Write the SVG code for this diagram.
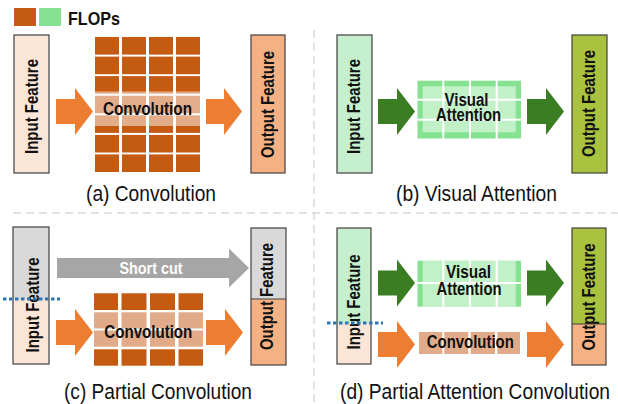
<svg xmlns="http://www.w3.org/2000/svg" width="618" height="404" viewBox="0 0 618 404">
<style>
.bg{fill:#ffffff}
.feat{stroke:#404040;stroke-width:1.2}
.inp{fill:#fbe5d6}
.outc{fill:#f4b183}
.ging{fill:#c6efce}
.gout{fill:#a9c23f}
.gray{fill:#d9d9d9}
.cell{fill:#c55a11}
.lcell{fill:#e1ab89}
.gcell{fill:#84e291}
.ov{fill:#ffffff;fill-opacity:0.5}
.oarr{fill:#ed7d31}
.garr{fill:#3b7d23}
.sarr{fill:#a6a6a6}
.dash{stroke:#d9d9d9;stroke-width:1.5;stroke-dasharray:8 5;fill:none}
.dot{stroke:#2e75b6;stroke-width:2.8;stroke-dasharray:3.5 2.5;fill:none}
.lbl{font-family:"Liberation Sans",Arial,sans-serif;font-weight:bold;font-size:17.5px;fill:#111;text-anchor:middle}
.rl{font-family:"Liberation Sans",Arial,sans-serif;font-weight:bold;font-size:18px;fill:#111;text-anchor:middle}
.cap{font-family:"Liberation Sans",Arial,sans-serif;font-size:22px;fill:#111;text-anchor:middle}
</style>
<rect class="bg" x="0" y="0" width="618" height="404"/>

<g id="legend">
<rect class="cell" x="14" y="8" width="22" height="18"/>
<rect class="gcell" x="39" y="8" width="22" height="18"/>
<text x="68" y="24.5" style="font-family:'Liberation Sans',Arial,sans-serif;font-weight:bold;font-size:18.5px;fill:#111" textLength="52" lengthAdjust="spacingAndGlyphs">FLOPs</text>
</g>

<g id="dividers">
<line class="dash" x1="314" y1="30" x2="314" y2="404"/>
<line class="dash" x1="13" y1="213" x2="618" y2="213"/>
</g>

<g id="connectors">
<polygon class="oarr" points="56,99 75,99 75,88 93,111.5 75,135 75,124 56,124"/>
<polygon class="oarr" points="206,99 224,99 224,88 242,111.5 224,135 224,124 206,124"/>
<polygon class="garr" points="378,99 397,99 397,88 415,111.5 397,135 397,124 378,124"/>
<polygon class="garr" points="527,99 546,99 546,88 564,111.5 546,135 546,124 527,124"/>
<polygon class="sarr" points="57,258 229,258 229,248.5 249,268 229,287.5 229,278 57,278"/>
<polygon class="oarr" points="56,320 75,320 75,309 93,332.5 75,356 75,345 56,345"/>
<polygon class="oarr" points="206,320 225,320 225,309 243,332.5 225,356 225,345 206,345"/>
<polygon class="garr" points="378,270.5 397,270.5 397,259.5 415,283 397,306.5 397,295.5 378,295.5"/>
<polygon class="garr" points="527,270.5 546,270.5 546,259.5 564,283 546,306.5 546,295.5 527,295.5"/>
<polygon class="oarr" points="378,332 397,332 397,321 415,344.5 397,368 397,357 378,357"/>
<polygon class="oarr" points="527,332 546,332 546,321 564,344.5 546,368 546,357 527,357"/>
</g>

<g id="a-input">
<rect class="feat inp" x="14" y="35" width="35" height="138"/>
<text class="rl" transform="translate(37.5,106.5) rotate(-90)" textLength="95" lengthAdjust="spacingAndGlyphs">Input Feature</text>
</g>
<g id="a-conv">
<rect class="cell" x="95" y="37" width="24" height="17.6"/><rect class="cell" x="122" y="37" width="24" height="17.6"/><rect class="cell" x="149" y="37" width="24" height="17.6"/><rect class="cell" x="176" y="37" width="24" height="17.6"/>
<rect class="cell" x="95" y="56.6" width="24" height="17.6"/><rect class="cell" x="122" y="56.6" width="24" height="17.6"/><rect class="cell" x="149" y="56.6" width="24" height="17.6"/><rect class="cell" x="176" y="56.6" width="24" height="17.6"/>
<rect class="cell" x="95" y="76.1" width="24" height="17.6"/><rect class="cell" x="122" y="76.1" width="24" height="17.6"/><rect class="cell" x="149" y="76.1" width="24" height="17.6"/><rect class="cell" x="176" y="76.1" width="24" height="17.6"/>
<rect class="cell" x="95" y="95.7" width="24" height="17.6"/><rect class="cell" x="122" y="95.7" width="24" height="17.6"/><rect class="cell" x="149" y="95.7" width="24" height="17.6"/><rect class="cell" x="176" y="95.7" width="24" height="17.6"/>
<rect class="cell" x="95" y="115.3" width="24" height="17.6"/><rect class="cell" x="122" y="115.3" width="24" height="17.6"/><rect class="cell" x="149" y="115.3" width="24" height="17.6"/><rect class="cell" x="176" y="115.3" width="24" height="17.6"/>
<rect class="cell" x="95" y="134.9" width="24" height="17.6"/><rect class="cell" x="122" y="134.9" width="24" height="17.6"/><rect class="cell" x="149" y="134.9" width="24" height="17.6"/><rect class="cell" x="176" y="134.9" width="24" height="17.6"/>
<rect class="cell" x="95" y="154.4" width="24" height="17.6"/><rect class="cell" x="122" y="154.4" width="24" height="17.6"/><rect class="cell" x="149" y="154.4" width="24" height="17.6"/><rect class="cell" x="176" y="154.4" width="24" height="17.6"/>
<rect class="ov" x="95" y="91.5" width="105" height="34.5"/>
<text class="lbl" x="147.5" y="115" textLength="89" lengthAdjust="spacingAndGlyphs">Convolution</text>
</g>
<g id="a-output">
<rect class="feat outc" x="251" y="35" width="34" height="138"/>
<text class="rl" transform="translate(274,104.5) rotate(-90)" textLength="107" lengthAdjust="spacingAndGlyphs">Output Feature</text>
</g>
<text class="cap" x="151" y="201" textLength="130" lengthAdjust="spacingAndGlyphs">(a) Convolution</text>

<g id="b-input">
<rect class="feat ging" x="337" y="35" width="35" height="138"/>
<text class="rl" transform="translate(360,106.5) rotate(-90)" textLength="95" lengthAdjust="spacingAndGlyphs">Input Feature</text>
</g>
<g id="b-attn">
<rect class="gcell" x="417.5" y="80.7" width="24.8" height="18"/><rect class="gcell" x="444.3" y="80.7" width="24.7" height="18"/><rect class="gcell" x="471" y="80.7" width="24.7" height="18"/><rect class="gcell" x="497.7" y="80.7" width="23.3" height="18"/>
<rect class="gcell" x="417.5" y="100.7" width="24.8" height="18"/><rect class="gcell" x="444.3" y="100.7" width="24.7" height="18"/><rect class="gcell" x="471" y="100.7" width="24.7" height="18"/><rect class="gcell" x="497.7" y="100.7" width="23.3" height="18"/>
<rect class="gcell" x="417.5" y="120.7" width="24.8" height="17.8"/><rect class="gcell" x="444.3" y="120.7" width="24.7" height="17.8"/><rect class="gcell" x="471" y="120.7" width="24.7" height="17.8"/><rect class="gcell" x="497.7" y="120.7" width="23.3" height="17.8"/>
<rect class="ov" x="422.7" y="86.3" width="93" height="46"/>
<text class="lbl" x="466.5" y="105.5" textLength="44" lengthAdjust="spacingAndGlyphs">Visual</text>
<text class="lbl" x="468.5" y="121" textLength="65" lengthAdjust="spacingAndGlyphs">Attention</text>
</g>
<g id="b-output">
<rect class="feat gout" x="572" y="35" width="35" height="138"/>
<text class="rl" transform="translate(594.5,103.5) rotate(-90)" textLength="107" lengthAdjust="spacingAndGlyphs">Output Feature</text>
</g>
<text class="cap" x="476.5" y="201" textLength="161" lengthAdjust="spacingAndGlyphs">(b) Visual Attention</text>

<g id="c-input">
<rect class="gray" x="13" y="227" width="36" height="72"/>
<rect class="inp" x="13" y="299" width="36" height="65"/>
<rect class="feat" fill="none" x="13" y="227" width="36" height="137"/>
<text class="rl" transform="translate(39,305) rotate(-90)" textLength="95" lengthAdjust="spacingAndGlyphs">Input Feature</text>
<line class="dot" x1="3" y1="299" x2="60" y2="299"/>
</g>
<g id="c-conv">
<rect class="cell" x="94" y="293.3" width="24" height="16.7"/><rect class="cell" x="121.5" y="293.3" width="25" height="16.7"/><rect class="cell" x="150" y="293.3" width="25" height="16.7"/><rect class="cell" x="178.5" y="293.3" width="24.5" height="16.7"/>
<rect class="lcell" x="94" y="312.3" width="24" height="16.2"/><rect class="lcell" x="121.5" y="312.3" width="25" height="16.2"/><rect class="lcell" x="150" y="312.3" width="25" height="16.2"/><rect class="lcell" x="178.5" y="312.3" width="24.5" height="16.2"/>
<rect class="lcell" x="94" y="330.5" width="24" height="16.2"/><rect class="lcell" x="121.5" y="330.5" width="25" height="16.2"/><rect class="lcell" x="150" y="330.5" width="25" height="16.2"/><rect class="lcell" x="178.5" y="330.5" width="24.5" height="16.2"/>
<rect class="cell" x="94" y="349.3" width="24" height="16.4"/><rect class="cell" x="121.5" y="349.3" width="25" height="16.4"/><rect class="cell" x="150" y="349.3" width="25" height="16.4"/><rect class="cell" x="178.5" y="349.3" width="24.5" height="16.4"/>
<text class="lbl" x="148.3" y="338.3" textLength="88" lengthAdjust="spacingAndGlyphs">Convolution</text>
</g>
<text x="151" y="274" style="font-family:'Liberation Sans',Arial,sans-serif;font-weight:bold;font-size:17px;fill:#ffffff;text-anchor:middle" textLength="63" lengthAdjust="spacingAndGlyphs">Short cut</text>
<g id="c-output">
<rect class="gray" x="251" y="228" width="35" height="71"/>
<rect class="outc" x="251" y="299" width="35" height="66"/>
<rect class="feat" fill="none" x="251" y="228" width="35" height="137"/>
<line stroke="#404040" stroke-width="1.2" x1="251" y1="299" x2="286" y2="299"/>
<text class="rl" transform="translate(273,296.5) rotate(-90)" textLength="107" lengthAdjust="spacingAndGlyphs">Output Feature</text>
</g>
<text class="cap" x="158" y="399" textLength="188" lengthAdjust="spacingAndGlyphs">(c) Partial Convolution</text>

<g id="d-input">
<rect class="ging" x="337" y="228" width="34" height="95"/>
<rect class="inp" x="337" y="323" width="34" height="41"/>
<rect class="feat" fill="none" x="337" y="228" width="34" height="136"/>
<text class="rl" transform="translate(360,302) rotate(-90)" textLength="95" lengthAdjust="spacingAndGlyphs">Input Feature</text>
<line class="dot" x1="327" y1="323" x2="383" y2="323"/>
</g>
<g id="d-attn">
<rect class="gcell" x="417.5" y="260.7" width="24.8" height="21.3"/><rect class="gcell" x="444.3" y="260.7" width="24.7" height="21.3"/><rect class="gcell" x="471" y="260.7" width="24.7" height="21.3"/><rect class="gcell" x="497.7" y="260.7" width="23.3" height="21.3"/>
<rect class="gcell" x="417.5" y="284" width="24.8" height="22.7"/><rect class="gcell" x="444.3" y="284" width="24.7" height="22.7"/><rect class="gcell" x="471" y="284" width="24.7" height="22.7"/><rect class="gcell" x="497.7" y="284" width="23.3" height="22.7"/>
<rect class="ov" x="422.7" y="260.7" width="93" height="46"/>
<text class="lbl" x="468.5" y="278.3" textLength="45" lengthAdjust="spacingAndGlyphs">Visual</text>
<text class="lbl" x="469" y="294.5" textLength="65" lengthAdjust="spacingAndGlyphs">Attention</text>
</g>
<g id="d-conv">
<rect class="lcell" x="419" y="332" width="23.3" height="22"/><rect class="lcell" x="444.3" y="332" width="24" height="22"/><rect class="lcell" x="470.7" y="332" width="24.3" height="22"/><rect class="lcell" x="497.3" y="332" width="22.7" height="22"/>
<text class="lbl" x="470.3" y="347.7" textLength="87" lengthAdjust="spacingAndGlyphs">Convolution</text>
</g>
<g id="d-output">
<rect class="gout" x="572" y="228" width="34" height="96"/>
<rect class="outc" x="572" y="324" width="34" height="41"/>
<rect class="feat" fill="none" x="572" y="228" width="34" height="137"/>
<line stroke="#404040" stroke-width="1.2" x1="572" y1="324" x2="606" y2="324"/>
<text class="rl" transform="translate(594.5,297) rotate(-90)" textLength="107" lengthAdjust="spacingAndGlyphs">Output Feature</text>
</g>
<text class="cap" x="475" y="399" textLength="270" lengthAdjust="spacingAndGlyphs">(d) Partial Attention Convolution</text>
</svg>
